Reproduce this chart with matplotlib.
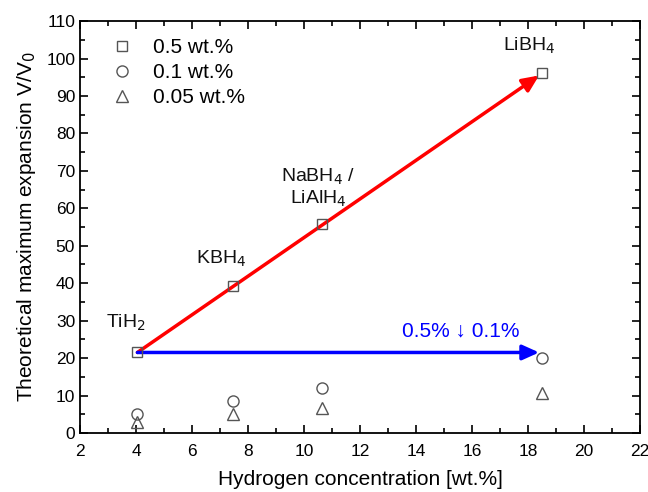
import numpy as np
import matplotlib
matplotlib.use("Agg")
import matplotlib.pyplot as plt
from matplotlib.ticker import MultipleLocator

plt.rcParams['font.family'] = ['Liberation Sans', 'DejaVu Sans']

# hydrogen concentration of each hydride
h_conc = [4.05, 7.45, 10.65, 18.5]
names = ['TiH$_2$', 'KBH$_4$', 'NaBH$_4$ /\nLiAlH$_4$', 'LiBH$_4$']
# theoretical expansion per foaming agent content
exp_05 = [21.5, 39.3, 55.7, 96.1]
exp_01 = [5.1, 8.6, 12.0, 19.9]
exp_005 = [3.0, 5.1, 6.6, 10.7]

fig = plt.figure(figsize=(6.48, 4.92), dpi=100)
ax = fig.add_axes([0.1235, 0.12, 0.864, 0.837])

gray = '#555555'
ax.plot(h_conc, exp_05, 's', ms=7, mfc='none', mec=gray, mew=1.0, label='0.5 wt.%', zorder=4)
ax.plot(h_conc, exp_01, 'o', ms=8, mfc='none', mec=gray, mew=1.0, label='0.1 wt.%', zorder=4)
ax.plot(h_conc, exp_005, '^', ms=8, mfc='none', mec=gray, mew=1.0, label='0.05 wt.%', zorder=4)

# arrows
ax.annotate('', xy=(h_conc[3] - 0.1, exp_05[3] - 0.6), xytext=(h_conc[0], exp_05[0]),
            arrowprops=dict(arrowstyle='-|>,head_length=1.0,head_width=0.45', color='#ff0000', lw=2.5,
                            shrinkA=0, shrinkB=0), zorder=3)
ax.annotate('', xy=(h_conc[3] - 0.1, exp_05[0]), xytext=(h_conc[0], exp_05[0]),
            arrowprops=dict(arrowstyle='-|>,head_length=1.0,head_width=0.45', color='#0000ff', lw=2.5,
                            shrinkA=0, shrinkB=0), zorder=3)
ax.text(15.6, 27.2, '0.5% ↓ 0.1%', color='#0000ff', fontsize=15, ha='center', va='center')

# compound labels
label_pos = [(3.65, 29.5), (7.05, 46.5), (10.5, 65.5), (18.05, 103.5)]
for n, (lx, ly) in zip(names, label_pos):
    ax.text(lx, ly, n, fontsize=14, ha='center', va='center', color='#111111', linespacing=1.1)

ax.set_xlim(2, 22)
ax.set_ylim(0, 110)
ax.xaxis.set_major_locator(MultipleLocator(2))
ax.xaxis.set_minor_locator(MultipleLocator(1))
ax.yaxis.set_major_locator(MultipleLocator(10))
ax.yaxis.set_minor_locator(MultipleLocator(5))
ax.tick_params(which='both', direction='in', top=True, right=True, labelsize=12.5, width=1.2)
ax.tick_params(which='major', length=6)
ax.tick_params(which='minor', length=3.5)
ax.tick_params(axis='x', pad=8)
for s in ax.spines.values():
    s.set_linewidth(1.3)

ax.set_xlabel('Hydrogen concentration [wt.%]', fontsize=15, labelpad=8)
ax.set_ylabel('Theoretical maximum expansion V/V$_0$', fontsize=15, labelpad=6)

ax.legend(loc='upper left', frameon=False, fontsize=15, handletextpad=0.5,
          labelspacing=0.3, borderaxespad=0.6, bbox_to_anchor=(0.0, 1.01))

fig.savefig('out.png', dpi=100)
